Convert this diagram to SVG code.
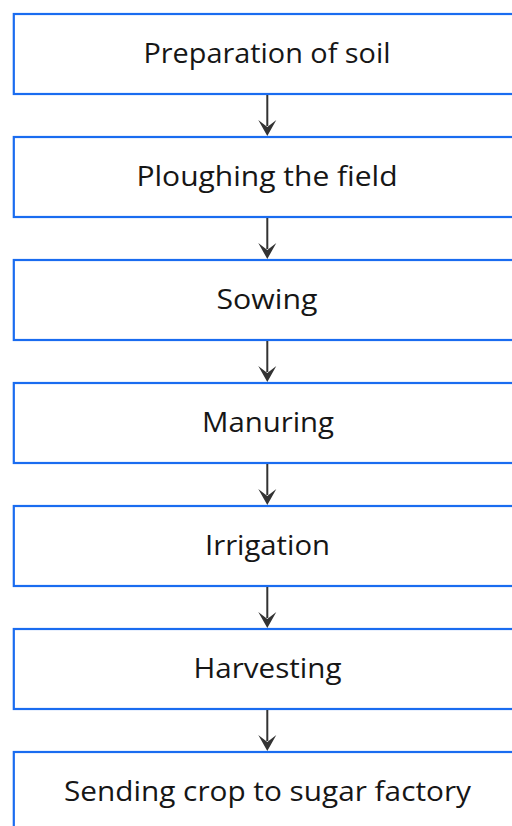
<svg xmlns="http://www.w3.org/2000/svg" width="512" height="826" viewBox="0 0 512 826">
<style>
.box{fill:#fff;stroke:#1a6cf0;stroke-width:2.2}
.lbl{font-family:"Open Sans","Liberation Sans",sans-serif;font-size:27px;fill:#161616;text-anchor:middle}
.con{stroke:#333;stroke-width:2;fill:none}
.head{fill:#333}
</style>
<defs>
<path id="ah" class="head" d="M-9,-16 L0,-9 L9,-16 L0,0 Z"/>
</defs>
<rect width="512" height="826" fill="#fff"/>
<g id="n1"><rect class="box" x="13.8" y="14" width="507" height="80"/><text class="lbl" x="267" y="62.5" textLength="247" lengthAdjust="spacingAndGlyphs">Preparation of soil</text></g>
<g id="n2"><rect class="box" x="13.8" y="137" width="507" height="80"/><text class="lbl" x="267" y="185.8" textLength="261" lengthAdjust="spacingAndGlyphs">Ploughing the field</text></g>
<g id="n3"><rect class="box" x="13.8" y="260" width="507" height="80"/><text class="lbl" x="267" y="308.5" textLength="101" lengthAdjust="spacingAndGlyphs">Sowing</text></g>
<g id="n4"><rect class="box" x="13.8" y="383" width="507" height="80"/><text class="lbl" x="268" y="431.5" textLength="132" lengthAdjust="spacingAndGlyphs">Manuring</text></g>
<g id="n5"><rect class="box" x="13.8" y="506" width="507" height="80"/><text class="lbl" x="267.5" y="554.5" textLength="125" lengthAdjust="spacingAndGlyphs">Irrigation</text></g>
<g id="n6"><rect class="box" x="13.8" y="629" width="507" height="80"/><text class="lbl" x="267.5" y="677.5" textLength="148" lengthAdjust="spacingAndGlyphs">Harvesting</text></g>
<g id="n7"><rect class="box" x="13.8" y="752" width="507" height="80"/><text class="lbl" x="267.5" y="800.5" textLength="407" lengthAdjust="spacingAndGlyphs">Sending crop to sugar factory</text></g>
<g id="connectors">
<line class="con" x1="267.3" y1="95" x2="267.3" y2="126"/><use href="#ah" x="267.3" y="136"/>
<line class="con" x1="267.3" y1="218" x2="267.3" y2="249"/><use href="#ah" x="267.3" y="259"/>
<line class="con" x1="267.3" y1="341" x2="267.3" y2="372"/><use href="#ah" x="267.3" y="382"/>
<line class="con" x1="267.3" y1="464" x2="267.3" y2="495"/><use href="#ah" x="267.3" y="505"/>
<line class="con" x1="267.3" y1="587" x2="267.3" y2="618"/><use href="#ah" x="267.3" y="628"/>
<line class="con" x1="267.3" y1="710" x2="267.3" y2="741"/><use href="#ah" x="267.3" y="751"/>
</g>
</svg>
